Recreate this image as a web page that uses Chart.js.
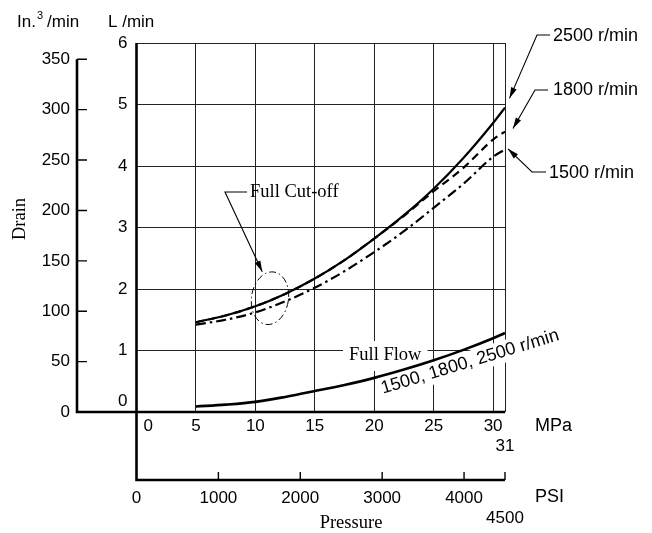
<!DOCTYPE html>
<html>
<head>
<meta charset="utf-8">
<script src="https://cdn.jsdelivr.net/npm/chart.js@4.4.0/dist/chart.umd.min.js"></script>
<style>
  html, body { margin: 0; padding: 0; background: #fff; }
  #wrap { width: 652px; height: 533px; position: relative; }
</style>
</head>
<body>
<div id="wrap"><canvas id="drainChart"></canvas></div>
<script>
const pressureMPa = [5, 7.5, 10, 12.5, 15, 17.5, 20, 22.5, 25, 27.5, 30, 31];
// Drain flow in L/min
const cutoff2500 = [1.46, 1.57, 1.72, 1.92, 2.17, 2.47, 2.82, 3.20, 3.63, 4.13, 4.70, 4.95];
const cutoff1800 = [1.46, 1.57, 1.72, 1.92, 2.17, 2.47, 2.82, 3.19, 3.59, 3.97, 4.43, 4.56];
const cutoff1500 = [1.42, 1.50, 1.62, 1.80, 2.02, 2.29, 2.60, 2.94, 3.32, 3.71, 4.15, 4.27];
const fullFlow   = [0.09, 0.12, 0.165, 0.245, 0.34, 0.44, 0.555, 0.69, 0.84, 1.01, 1.20, 1.285];

// Tick labels for the four axes
const mpaTicks = [0, 5, 10, 15, 20, 25, 30, 31];
const lpmTicks = [0, 1, 2, 3, 4, 5, 6];
const in3Ticks = [0, 50, 100, 150, 200, 250, 300, 350];
const psiTicks = [0, 1000, 2000, 3000, 4000, 4500];

const IN3_PER_L = 61.0237;

const SANS = 'Liberation Sans, Arial, sans-serif';
const SERIF = 'Liberation Serif, Times New Roman, serif';
const tickFont = { family: SANS, size: 17 };

const toPoints = (ys) => pressureMPa.map((x, i) => ({ x, y: ys[i] }));
const setTicks = (list) => (scale) => { scale.ticks = list.map(v => ({ value: v })); };

function arrowLine(ctx, pts) {
  ctx.beginPath();
  ctx.moveTo(pts[0][0], pts[0][1]);
  for (let i = 1; i < pts.length; i++) ctx.lineTo(pts[i][0], pts[i][1]);
  ctx.stroke();
  const [x1, y1] = pts[pts.length - 2];
  const [x2, y2] = pts[pts.length - 1];
  const a = Math.atan2(y2 - y1, x2 - x1);
  const len = 11, half = 3;
  ctx.beginPath();
  ctx.moveTo(x2, y2);
  ctx.lineTo(x2 - len * Math.cos(a) + half * Math.sin(a), y2 - len * Math.sin(a) - half * Math.cos(a));
  ctx.lineTo(x2 - len * Math.cos(a) - half * Math.sin(a), y2 - len * Math.sin(a) + half * Math.cos(a));
  ctx.closePath();
  ctx.fill();
}

const extras = {
  id: 'extras',
  beforeDatasetsDraw(chart) {
    const ctx = chart.ctx;
    ctx.save();
    ctx.fillStyle = '#000';
    ctx.textBaseline = 'middle';

    // "Full Flow" label on a white patch
    ctx.font = '18.5px ' + SERIF;
    let w = ctx.measureText('Full Flow').width;
    ctx.fillStyle = '#fff';
    ctx.fillRect(343, 341, w + 12, 30);
    ctx.fillStyle = '#000';
    ctx.textAlign = 'left';
    ctx.fillText('Full Flow', 349, 355);

    // rotated speed label along the full flow curve
    ctx.save();
    ctx.translate(470, 362);
    ctx.rotate(-17 * Math.PI / 180);
    ctx.font = '18px ' + SANS;
    const txt = '1500, 1800, 2500 r/min';
    w = ctx.measureText(txt).width;
    ctx.fillStyle = '#fff';
    ctx.fillRect(-w / 2 - 3, -11, w + 6, 22);
    ctx.fillStyle = '#000';
    ctx.textAlign = 'center';
    ctx.fillText(txt, 0, 0);
    ctx.restore();

    // Full Cut-off label
    ctx.font = '18.5px ' + SERIF;
    ctx.textAlign = 'left';
    ctx.fillText('Full Cut-off', 250, 192);
    ctx.restore();
  },
  afterDatasetsDraw(chart) {
    const ctx = chart.ctx;
    const { x, y, yIn, xPsi } = chart.scales;
    const P = (mpa, lpm) => [x.getPixelForValue(mpa), y.getPixelForValue(lpm)];
    const left = chart.chartArea.left, right = chart.chartArea.right;
    const top = chart.chartArea.top, bottom = chart.chartArea.bottom;
    const outerX = yIn.right;
    const psiY = xPsi.top;

    ctx.save();
    ctx.strokeStyle = '#000';
    ctx.fillStyle = '#000';
    ctx.lineCap = 'butt';

    // main axis lines
    ctx.lineWidth = 2.6;
    ctx.beginPath();
    ctx.moveTo(outerX, yIn.getPixelForValue(350));
    ctx.lineTo(outerX, bottom);
    ctx.lineTo(right, bottom);
    ctx.moveTo(left, top);
    ctx.lineTo(left, psiY);
    ctx.lineTo(right, psiY);
    ctx.stroke();

    // outer tick marks
    ctx.lineWidth = 1.4;
    ctx.beginPath();
    in3Ticks.slice(1).forEach(v => {
      const py = yIn.getPixelForValue(v);
      ctx.moveTo(outerX, py);
      ctx.lineTo(outerX + 10, py);
    });
    psiTicks.slice(1).forEach(v => {
      const px = xPsi.getPixelForValue(v);
      ctx.moveTo(px, psiY);
      ctx.lineTo(px, psiY - 8);
    });
    ctx.stroke();

    // leader lines to the speed labels
    ctx.lineWidth = 1.1;
    arrowLine(ctx, [[550, 35], [537, 35], P(31.38, 5.10)]);
    arrowLine(ctx, [[548, 90], [535, 90], P(31.67, 4.61)]);
    arrowLine(ctx, [[546, 172], [532, 172], P(31.25, 4.28)]);
    arrowLine(ctx, [[247, 192], [225, 192], P(10.58, 2.28)]);

    // dash-dot ellipse marking the cut-off zone
    const [cx, cy] = P(11.23, 1.85);
    ctx.setLineDash([7, 3, 1.5, 3]);
    ctx.lineWidth = 1;
    ctx.beginPath();
    ctx.ellipse(cx, cy, 18.5, 26.5, 0.15, 0, Math.PI * 2);
    ctx.stroke();
    ctx.setLineDash([]);

    // axis titles and unit labels
    ctx.textBaseline = 'alphabetic';
    ctx.textAlign = 'left';
    ctx.font = '17px ' + SANS;
    ctx.fillText('In.', 17, 27);
    ctx.font = '11px ' + SANS;
    ctx.fillText('3', 37, 19);
    ctx.font = '17px ' + SANS;
    ctx.fillText('/min', 47, 27);
    ctx.fillText('L /min', 108, 27);

    ctx.textBaseline = 'middle';
    ctx.font = '18px ' + SANS;
    ctx.fillText('MPa', 535, 426);
    ctx.fillText('PSI', 535, 497);
    ctx.fillText('2500 r/min', 553, 36);
    ctx.fillText('1800 r/min', 553, 90);
    ctx.fillText('1500 r/min', 549, 173);

    ctx.font = '18.5px ' + SERIF;
    ctx.textAlign = 'center';
    ctx.fillText('Pressure', 351, 523);
    ctx.save();
    ctx.translate(20, 219);
    ctx.rotate(-Math.PI / 2);
    ctx.fillText('Drain', 0, 0);
    ctx.restore();

    ctx.restore();
  }
};

const lineStyle = { pointRadius: 0, borderColor: '#000', fill: false, cubicInterpolationMode: 'monotone' };

new Chart(document.getElementById('drainChart'), {
  type: 'line',
  data: {
    datasets: [
      { ...lineStyle, label: '2500 r/min', data: toPoints(cutoff2500), borderWidth: 2.2 },
      { ...lineStyle, label: '1800 r/min', data: toPoints(cutoff1800), borderWidth: 2.2, borderDash: [8, 5] },
      { ...lineStyle, label: '1500 r/min', data: toPoints(cutoff1500), borderWidth: 2.2, borderDash: [10, 4, 2.5, 4] },
      { ...lineStyle, label: 'Full Flow', data: toPoints(fullFlow), borderWidth: 2.6 }
    ]
  },
  options: {
    responsive: true,
    maintainAspectRatio: false,
    animation: false,
    layout: { padding: { left: 0, top: 43, right: 147, bottom: 0 } },
    plugins: { legend: { display: false }, tooltip: { enabled: false } },
    scales: {
      x: {
        type: 'linear', position: 'bottom', weight: 0, min: 0, max: 31,
        afterBuildTicks: setTicks(mpaTicks),
        afterFit: (s) => { s.height = 68; },
        grid: { color: '#222', lineWidth: 1, drawTicks: false },
        border: { display: false },
        ticks: {
          font: tickFont, color: '#000', padding: 4, maxRotation: 0, autoSkip: false,
          callback: (v) => v === 0 ? '     0' : (v === 31 ? ['', '31'] : String(v))
        }
      },
      xPsi: {
        type: 'linear', position: 'bottom', weight: 1, min: 0, max: 4500,
        afterBuildTicks: setTicks(psiTicks),
        afterFit: (s) => { s.height = 53; },
        grid: { display: false, drawTicks: false },
        border: { display: false },
        ticks: {
          font: tickFont, color: '#000', padding: 8, maxRotation: 0, autoSkip: false,
          callback: (v) => v === 4500 ? ['', '4500'] : String(v)
        }
      },
      y: {
        type: 'linear', position: 'left', weight: 0, min: 0, max: 6,
        afterBuildTicks: setTicks(lpmTicks),
        afterFit: (s) => { s.width = 59.5; },
        grid: { color: '#222', lineWidth: 1, drawTicks: false },
        border: { display: false },
        ticks: {
          font: tickFont, color: '#000', padding: 9, autoSkip: false,
          callback: (v) => v === 0 ? ['0', ''] : String(v)
        }
      },
      yIn: {
        type: 'linear', position: 'left', weight: 1, min: 0, max: 6 * IN3_PER_L,
        afterBuildTicks: setTicks(in3Ticks),
        afterFit: (s) => { s.width = 77; },
        grid: { display: false, drawTicks: false },
        border: { display: false },
        ticks: { font: tickFont, color: '#000', padding: 7, autoSkip: false }
      }
    }
  },
  plugins: [extras]
});
</script>
</body>
</html>
